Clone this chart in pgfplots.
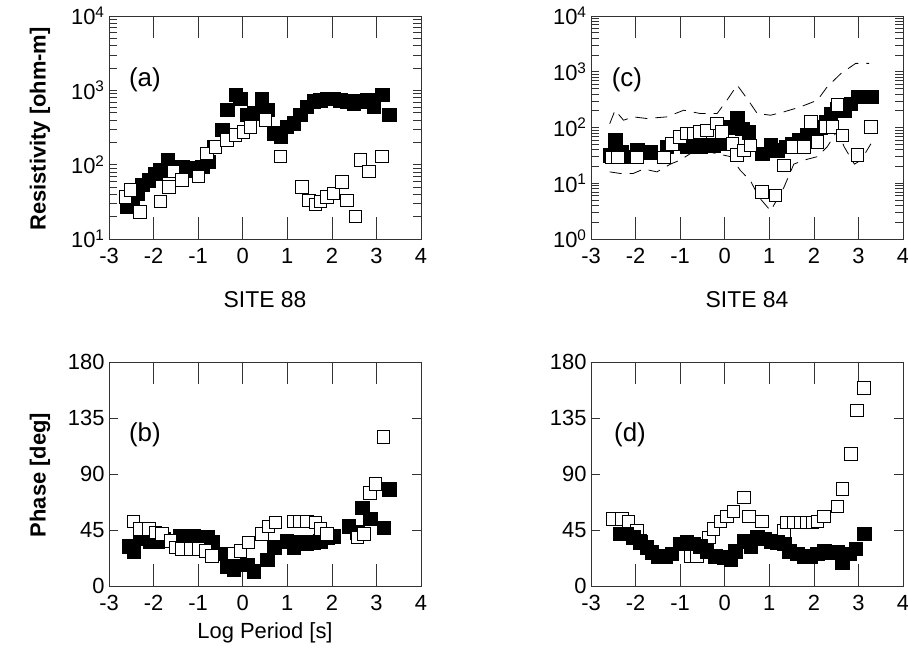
\documentclass[border=0pt]{standalone}
\usepackage{fontspec}
\setmainfont{Liberation Sans}
\usepackage{pgfplots}
\pgfplotsset{compat=1.18}
\pgfplotsset{
  panel/.style={
    scale only axis, width=312bp,
    xmin=-3, xmax=4, xtick={-3,...,4},
    tick align=inside,
    axis line style={black!80, line width=0.7pt},
    every tick/.append style={black!80, line width=0.6pt},
    major tick length=22bp, minor tick length=9bp,
    major y tick style={draw=none},
    ticklabel style={font=\fontsize{22}{26}\selectfont},
    xticklabel style={yshift=-6bp},
    yticklabel style={xshift=-1bp},
    /pgf/number format/assume math mode=true,
  },
  logpanel/.style={panel, height=223bp, minor tick length=8bp,
    ytick={1,10,100,1000,10000},
    yticklabels={10\textsuperscript{0},10\textsuperscript{1},10\textsuperscript{2},10\textsuperscript{3},10\textsuperscript{4}},
    minor ytick={2,3,4,5,6,7,8,9,10,20,30,40,50,60,70,80,90,100,200,300,400,500,600,700,800,900,1000,2000,3000,4000,5000,6000,7000,8000,9000},
  },
  phasepanel/.style={panel, height=224bp, ymin=0, ymax=180, ytick={0,45,90,135,180}, minor ytick={45,90,135}},
  filled/.style={only marks, mark=square*, mark size=6.8bp, mark options={fill=black, draw=black}},
  open/.style={only marks, mark=square*, mark size=6.3bp, mark options={fill=white, draw=black, line width=0.9pt}},
  envelope/.style={black, line width=0.8pt, dash pattern=on 12bp off 8bp, no marks},
}
\tikzset{lab/.style={font=\fontsize{26}{30}\selectfont}}
\begin{document}
\begin{tikzpicture}[x=1bp,y=1bp]
\useasboundingbox (0bp,0bp) rectangle (908bp,655bp);
% (a)
\begin{axis}[ymode=log, logpanel, at={(109bp,416bp)}, anchor=south west, ymin=10, ymax=10000]
\addplot[filled] coordinates {
(-2.60,27.2) (-2.48,28.8) (-2.37,41.1) (-2.26,53.7) (-2.11,61.7) (-1.96,75.9) (-1.85,85)
(-1.68,117) (-1.51,93) (-1.36,94) (-1.21,89) (-1.06,85) (-0.91,94) (-0.76,110)
(-0.65,174) (-0.46,295) (-0.35,550) (-0.16,870) (-0.05,776) (0.10,468) (0.25,490)
(0.43,776) (0.55,550) (0.70,263) (0.85,240) (0.99,324) (1.14,363) (1.29,468)
(1.44,603) (1.59,708) (1.74,741) (1.89,776) (2.04,776) (2.19,741) (2.34,708)
(2.49,676) (2.64,708) (2.79,741) (2.94,603) (3.13,870) (3.28,468)
};
\addplot[open] coordinates {
(-2.63,37) (-2.52,46) (-2.30,23) (-1.85,32) (-1.66,50) (-1.55,81) (-1.36,62)
(-0.99,69) (-0.80,141) (-0.61,174) (-0.35,214) (-0.16,251) (0.02,275) (0.17,324)
(0.51,398) (0.85,129) (1.33,50) (1.48,33) (1.63,29) (1.74,32) (1.89,37) (2.04,41)
(2.23,59) (2.34,33) (2.53,20) (2.64,115) (2.83,81) (3.13,129)
};
\node[lab] at (rel axis cs:0.115,0.713) {(a)};
\end{axis}
% (c)
\begin{axis}[ymode=log, logpanel, at={(591bp,416bp)}, anchor=south west, ymin=1, ymax=10000]
\addplot[envelope] coordinates {
(-2.58,117) (-2.46,204) (-2.27,135) (-2.05,155) (-1.75,145) (-1.30,155) (-0.92,204)
(-0.55,178) (-0.17,178) (0.05,309) (0.28,575) (0.50,331) (0.73,178) (1.03,166)
(1.33,191) (1.70,234) (2.08,309) (2.30,537) (2.61,933) (2.94,1413) (3.24,1413)
};
\addplot[envelope] coordinates {
(-2.58,16) (-2.35,15) (-2.05,15) (-1.82,18) (-1.52,16) (-1.22,22) (-1.00,26)
(-0.77,34) (-0.32,36) (0.13,30) (0.35,17) (0.58,11) (0.77,5.6) (1.03,3.2)
(1.33,8.5) (1.55,22) (1.78,26) (2.08,30) (2.30,45) (2.53,89) (2.68,45)
(2.91,22) (3.06,26) (3.28,51)
};
\addplot[filled] coordinates {
(-2.58,32) (-2.46,59) (-2.31,36) (-2.16,30) (-1.97,39) (-1.82,36) (-1.67,36)
(-1.30,45) (-1.15,51) (-1.00,55) (-0.85,45) (-0.70,45) (-0.55,45) (-0.40,48)
(-0.25,48) (-0.06,51) (0.13,102) (0.28,145) (0.39,95) (0.54,83) (0.84,34)
(1.03,48) (1.18,39) (1.37,45) (1.52,51) (1.67,59) (1.85,72) (2.00,83) (2.15,102)
(2.27,126) (2.38,178) (2.53,219) (2.68,204) (2.83,269) (2.98,355) (3.13,355) (3.28,355)
};
\addplot[open] coordinates {
(-2.54,29) (-2.39,29) (-1.97,29) (-1.37,29) (-1.19,51) (-1.00,68) (-0.85,78)
(-0.70,78) (-0.55,83) (-0.40,89) (-0.17,118) (-0.06,83) (0.17,51) (0.28,32)
(0.43,39) (0.58,48) (0.84,6.9) (1.14,6.0) (1.33,21) (1.52,45) (1.78,45)
(1.93,126) (2.08,55) (2.27,102) (2.42,102) (2.53,251) (2.64,72) (2.98,32) (3.28,102)
};
\node[lab] at (rel axis cs:0.115,0.713) {(c)};
\end{axis}
% (b)
\begin{axis}[phasepanel, at={(109bp,69bp)}, anchor=south west]
\addplot[filled] coordinates {
(-2.56,32) (-2.45,28) (-2.30,38) (-2.22,44) (-2.07,36) (-1.92,36) (-1.77,38)
(-1.40,40) (-1.25,40) (-1.10,40) (-0.95,39) (-0.80,39) (-0.69,35) (-0.50,26)
(-0.35,16) (-0.20,13) (-0.05,17) (0.10,17) (0.25,12) (0.55,21) (0.70,31)
(0.99,36) (1.14,31) (1.29,35) (1.44,34) (1.59,35) (1.74,36) (1.89,39) (2.04,40)
(2.38,48) (2.57,43) (2.68,63) (2.86,54) (3.16,47) (3.28,78)
};
\addplot[open] coordinates {
(-2.45,52) (-2.30,46) (-2.11,46) (-1.96,43) (-1.81,42) (-1.62,36) (-1.51,31)
(-1.36,30) (-1.17,30) (-0.99,30) (-0.84,28) (-0.69,24) (-0.20,26) (-0.05,28)
(0.13,35) (0.43,42) (0.58,48) (0.73,51) (1.14,52) (1.29,52) (1.44,52) (1.63,51)
(1.74,46) (1.89,42) (2.57,39) (2.72,42) (2.86,75) (2.98,82) (3.16,120)
};
\node[lab] at (rel axis cs:0.115,0.674) {(b)};
\end{axis}
% (d)
\begin{axis}[phasepanel, at={(591bp,69bp)}, anchor=south west]
\addplot[open] coordinates {
(-2.52,54) (-2.31,54) (-2.16,52) (-1.97,44) (-1.90,36) (-0.77,24) (-0.62,24)
(-0.36,39) (-0.25,46) (-0.10,52) (0.05,56) (0.20,60) (0.43,71) (0.54,56)
(0.84,52) (1.33,44) (1.40,51) (1.55,51) (1.70,51) (1.85,51) (1.97,51) (2.08,52)
(2.23,56) (2.53,64) (2.64,78) (2.83,106) (2.97,141) (3.13,159)
};
\addplot[filled] coordinates {
(-2.35,42) (-2.20,42) (-2.05,39) (-1.90,35) (-1.75,31) (-1.64,27) (-1.49,24)
(-1.34,24) (-1.19,26) (-1.00,34) (-0.85,35) (-0.70,34) (-0.55,32) (-0.40,28)
(-0.21,24) (-0.02,23) (0.13,21) (0.24,28) (0.43,36) (0.58,32) (0.73,39) (0.88,38)
(1.03,36) (1.18,35) (1.33,34) (1.44,28) (1.63,26) (1.78,24) (1.93,24) (2.08,26)
(2.23,28) (2.38,27) (2.53,27) (2.64,19) (2.79,26) (2.94,30) (3.13,42)
};
\node[lab] at (rel axis cs:0.125,0.674) {(d)};
\end{axis}
\node[rotate=90, font=\bfseries\fontsize{22}{26}\selectfont] at (40bp,526bp) {Resistivity [ohm-m]};
\node[rotate=90, font=\bfseries\fontsize{22}{26}\selectfont] at (40bp,180bp) {Phase [deg]};
\node[font=\fontsize{23}{27}\selectfont] at (265bp,355bp) {SITE 88};
\node[font=\fontsize{23}{27}\selectfont] at (747bp,355bp) {SITE 84};
\node[font=\fontsize{22}{26}\selectfont] at (265bp,22bp) {Log Period [s]};
\end{tikzpicture}
\end{document}
